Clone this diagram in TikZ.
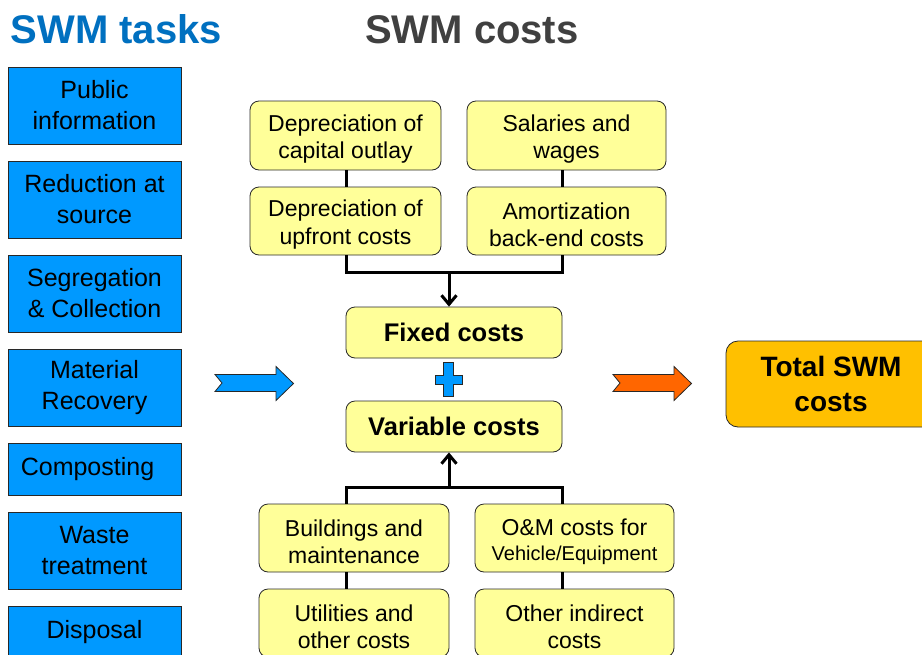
\documentclass[tikz,border=0pt]{standalone}
\usepackage{fontspec}
\setmainfont{Liberation Sans}
\usetikzlibrary{arrows.meta}
\definecolor{taskblue}{RGB}{0,153,255}
\definecolor{titleblue}{RGB}{0,112,192}
\definecolor{titlegray}{RGB}{64,64,64}
\definecolor{costyellow}{RGB}{255,255,153}
\definecolor{totalorange}{RGB}{255,192,0}
\definecolor{arroworange}{RGB}{255,102,0}
\definecolor{edgegray}{RGB}{40,40,40}
\newcommand{\mytopstrut}{\rule{0pt}{24pt}}
\tikzset{
  taskbox/.style={draw=edgegray, line width=0.8pt, fill=taskblue, minimum width=173pt,
    minimum height=77pt, inner sep=0pt, align=center, font=\fontsize{25}{31}\selectfont},
  roundbox/.style={draw=edgegray, line width=0.8pt, fill=costyellow, rounded corners=9pt,
    inner sep=0pt, align=center},
  costbox/.style={roundbox, font=\fontsize{23}{27.7}\selectfont},
  sumbox/.style={roundbox, minimum width=216pt, minimum height=51pt,
    font=\fontsize{25.5}{30}\selectfont\bfseries},
  conn/.style={line width=3pt},
  connarrow/.style={conn, -{Straight Barb[length=9pt,width=15pt]}},
  titletext/.style={anchor=base west, inner sep=0pt, font=\fontsize{40}{48}\selectfont\bfseries},
  bigarrow/.style={draw=edgegray, line width=0.8pt, line join=miter},
}
\begin{document}
\begin{tikzpicture}[x=1pt,y=-1pt]
\useasboundingbox (0,0) rectangle (922,654);
\clip (0,0) rectangle (922,654);
\fill[white] (0,0) rectangle (922,654);

% titles
\node[titletext, text=titleblue] (ttasks) at (10.5,43.3) {SWM tasks};
\node[titletext, text=titlegray] (tcosts) at (365,43.3) {SWM costs};

% task boxes
\node[taskbox] (t1) at (94.5,105.5) {Public\\information};
\node[taskbox] (t2) at (94.5,199.5) {Reduction at\\source};
\node[taskbox] (t3) at (94.5,293.5) {Segregation\\\& Collection};
\node[taskbox] (t4) at (94.5,387.5) {Material\\Recovery};
\node[taskbox, minimum height=52pt, align=left] (t5) at (94.5,469) {Composting\hspace*{14pt}};
\node[taskbox] (t6) at (94.5,550.5) {Waste\\treatment};
\node[taskbox, minimum height=52pt] (t7) at (94.5,632) {Disposal};

% fixed cost components
\node[costbox, minimum width=191pt, minimum height=69pt] (dco) at (345.5,135.5) {\mytopstrut Depreciation of\\capital outlay};
\node[costbox, minimum width=199pt, minimum height=69pt] (sal) at (566.5,135.5) {\mytopstrut Salaries and\\wages};
\node[costbox, minimum width=191pt, minimum height=68pt] (duc) at (345.5,221) {\mytopstrut Depreciation of\\upfront costs};
\node[costbox, minimum width=199pt, minimum height=68pt] (amo) at (566.5,221) {\mytopstrut Amortization\\back-end costs};

% sums
\node[sumbox] (fixed) at (454,332.5) {Fixed costs};
\node[sumbox] (var) at (454,426.5) {Variable costs};

% variable cost components
\node[costbox, minimum width=190pt, minimum height=68pt] (bld) at (354,538) {\mytopstrut Buildings and\\maintenance};
\node[costbox, minimum width=199pt, minimum height=68pt] (om) at (574.5,538) {\mytopstrut O\&M costs for\\[-3pt]{\fontsize{20}{24}\selectfont Vehicle/Equipment}};
\node[costbox, minimum width=190pt, minimum height=68pt] (utl) at (354,623) {\mytopstrut Utilities and\\other costs};
\node[costbox, minimum width=199pt, minimum height=68pt] (oth) at (574.5,623) {\mytopstrut Other indirect\\costs};

% total
\node[roundbox, fill=totalorange, rounded corners=12pt, minimum width=210pt, minimum height=86pt,
  font=\fontsize{28}{35}\selectfont\bfseries] (total) at (831,384) {Total SWM\\costs};

% connectors, fixed side
\coordinate (fj) at (449,272);
\draw[conn] (346,0 |- dco.south) -- (346,0 |- duc.north);
\draw[conn] (562,0 |- sal.south) -- (562,0 |- amo.north);
\draw[conn] (346,0 |- duc.south) |- (562,0 |- fj) -- (562,0 |- amo.south);
\draw[connarrow] (fj) -- (449,0 |- fixed.north);

% connectors, variable side
\coordinate (vj) at (449,487);
\draw[conn] (346,0 |- bld.north) |- (562,0 |- vj) -- (562,0 |- om.north);
\draw[connarrow] (vj) -- (449,0 |- var.south);
\draw[conn] (346,0 |- bld.south) -- (346,0 |- utl.north);
\draw[conn] (562,0 |- om.south) -- (562,0 |- oth.north);

% plus sign
\draw[bigarrow, fill=taskblue] (443.5,362) -- (453.5,362) -- (453.5,375) -- (462,375) -- (462,384.5)
  -- (453.5,384.5) -- (453.5,396) -- (443.5,396) -- (443.5,384.5) -- (435.5,384.5) -- (435.5,375)
  -- (443.5,375) -- cycle;

% big arrows
\draw[bigarrow, fill=taskblue] (215,374.5) -- (276,374.5) -- (276,366.5) -- (293.5,383.5)
  -- (276,400.5) -- (276,391.5) -- (215,391.5) -- (222,383) -- cycle;
\draw[bigarrow, fill=arroworange] (613,374.5) -- (674,374.5) -- (674,366.5) -- (691.5,383.5)
  -- (674,400.5) -- (674,391.5) -- (613,391.5) -- (620,383) -- cycle;
\end{tikzpicture}
\end{document}
